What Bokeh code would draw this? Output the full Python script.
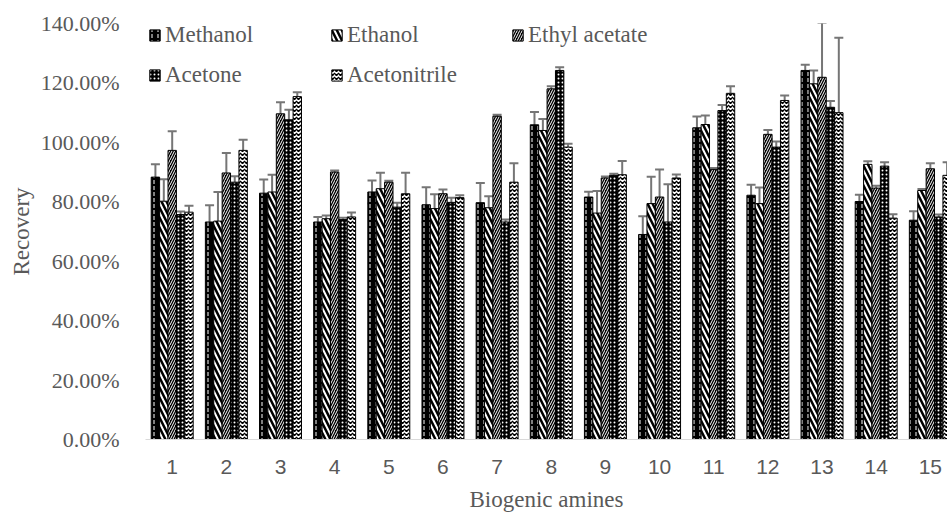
from bokeh.plotting import figure
from bokeh.models import (Range1d, FixedTicker, NumeralTickFormatter, Whisker,
                          ColumnDataSource, Legend, LegendItem, TeeHead)
from bokeh.transform import dodge
from bokeh.embed import file_html
from bokeh.resources import INLINE

# ---------------- data (recovery, %) ----------------
amines = list(range(1, 16))
tick_labels = [str(i) for i in amines]
solvents = ["Methanol", "Ethanol", "Ethyl acetate", "Acetone", "Acetonitrile"]

methanol     = [88.3, 73.2, 82.9, 73.2, 83.3, 79.0, 79.7, 105.9, 81.6, 69.0, 104.9, 82.2, 124.2, 80.1, 73.8]
methanol_err = [4.3, 5.6, 4.6, 1.7, 3.9, 5.9, 6.6, 4.3, 1.8, 6.1, 3.8, 3.5, 1.9, 2.3, 3.0]

ethanol      = [80.2, 73.5, 83.3, 74.3, 84.4, 77.7, 78.0, 104.0, 76.2, 79.4, 106.0, 79.4, 119.7, 92.6, 83.8]
ethanol_err  = [7.4, 9.8, 5.8, 1.1, 5.4, 4.8, 3.9, 3.9, 7.4, 9.0, 3.0, 5.4, 4.5, 1.0, 0.5]

ethyl_acetate     = [97.3, 89.7, 109.6, 90.0, 86.6, 82.7, 108.8, 118.0, 88.0, 81.6, 90.9, 102.7, 121.9, 84.6, 91.1]
ethyl_acetate_err = [6.4, 6.7, 3.9, 0.5, 0.5, 1.4, 0.5, 0.9, 0.5, 9.3, 0.5, 1.5, 18.3, 0.8, 1.9]

acetone     = [75.7, 86.6, 107.6, 74.0, 78.2, 79.8, 73.2, 124.2, 88.9, 73.2, 110.7, 98.4, 111.8, 92.0, 74.9]
acetone_err = [1.0, 2.0, 3.4, 0.6, 1.5, 1.6, 0.8, 1.1, 0.5, 12.7, 1.9, 1.9, 2.1, 1.3, 0.8]

acetonitrile     = [76.5, 97.3, 115.4, 74.9, 82.7, 81.4, 86.6, 98.4, 89.1, 88.0, 116.5, 114.1, 110.0, 74.5, 88.9]
acetonitrile_err = [2.2, 3.6, 1.5, 1.5, 7.1, 0.8, 6.4, 1.1, 4.6, 1.2, 2.4, 1.7, 25.2, 1.3, 4.4]

series = [methanol, ethanol, ethyl_acetate, acetone, acetonitrile]
errors = [methanol_err, ethanol_err, ethyl_acetate_err, acetone_err, acetonitrile_err]

# ---------------- styles ----------------
BAR_W = 0.155
offsets = [-2 * BAR_W, -BAR_W, 0.0, BAR_W, 2 * BAR_W]
styles = [
    dict(fill_color="black", hatch_pattern=":", hatch_color="white", hatch_scale=6, hatch_weight=1),
    dict(fill_color="black", hatch_pattern="\\", hatch_color="white", hatch_scale=10, hatch_weight=2),
    dict(fill_color="black", hatch_pattern="/", hatch_color="white", hatch_scale=5, hatch_weight=1),
    dict(fill_color="black", hatch_pattern=".", hatch_color="white", hatch_scale=4, hatch_weight=1),
    dict(fill_color="white", hatch_pattern="v", hatch_color="black", hatch_scale=4, hatch_weight=1.5),
]
GRAY_TXT = "#595959"
ERR_COL = "#767676"

p = figure(width=947, height=514, output_backend="svg", toolbar_location=None,
           x_range=Range1d(0.507, 15.317), y_range=Range1d(0, 1.40),
           min_border_left=145, min_border_right=0, min_border_top=23, min_border_bottom=75)
p.outline_line_color = None
p.xgrid.visible = False
p.ygrid.visible = False

renderers = []
for name, vals, errs, off, st in zip(solvents, series, errors, offsets, styles):
    src = ColumnDataSource(dict(
        x=amines,
        top=[v / 100 for v in vals],
        upper=[(v + e) / 100 for v, e in zip(vals, errs)],
        lower=[(v - e) / 100 for v, e in zip(vals, errs)],
    ))
    r = p.vbar(x=dodge("x", off, range=p.x_range), top="top", width=BAR_W, source=src,
               line_color="black", line_width=1, **st)
    renderers.append(r)
    w = Whisker(base=dodge("x", off, range=p.x_range), upper="upper", lower="lower", source=src,
                line_color=ERR_COL, line_width=2,
                upper_head=TeeHead(size=9, line_color=ERR_COL, line_width=2),
                lower_head=TeeHead(size=9, line_color=ERR_COL, line_width=2))
    p.add_layout(w)

# ---------------- axes ----------------
p.xaxis.ticker = FixedTicker(ticks=amines)
p.xaxis.major_label_overrides = {i: t for i, t in zip(amines, tick_labels)}
p.xaxis.axis_label = "Biogenic amines"
p.xaxis.axis_line_color = "#d9d9d9"
p.xaxis.major_tick_line_color = None
p.xaxis.minor_tick_line_color = None
p.xaxis.major_label_text_font = "Liberation Sans"
p.xaxis.major_label_text_font_size = "21px"
p.xaxis.major_label_text_color = GRAY_TXT
p.xaxis.major_label_standoff = 14
p.xaxis.axis_label_text_font = "Liberation Serif"
p.xaxis.axis_label_text_font_style = "normal"
p.xaxis.axis_label_text_font_size = "23px"
p.xaxis.axis_label_text_color = GRAY_TXT
p.xaxis.axis_label_standoff = 10

p.yaxis.ticker = FixedTicker(ticks=[0, 0.2, 0.4, 0.6, 0.8, 1.0, 1.2, 1.4])
p.yaxis.formatter = NumeralTickFormatter(format="0.00%")
p.yaxis.axis_line_color = None
p.yaxis.major_tick_line_color = None
p.yaxis.minor_tick_line_color = None
p.yaxis.major_label_text_font = "Liberation Serif"
p.yaxis.major_label_text_font_size = "22px"
p.yaxis.major_label_text_color = GRAY_TXT
p.yaxis.major_label_standoff = 20
p.yaxis.axis_label = "Recovery"
p.yaxis.axis_label_text_font = "Liberation Serif"
p.yaxis.axis_label_text_font_style = "normal"
p.yaxis.axis_label_text_font_size = "23px"
p.yaxis.axis_label_text_color = GRAY_TXT
p.yaxis.axis_label_standoff = 4

# ---------------- legends ----------------
legend_pos = [(3, 391), (185, 391), (366, 391), (3, 351), (185, 351)]
for name, r, loc in zip(solvents, renderers, legend_pos):
    lg = Legend(items=[LegendItem(label=name, renderers=[r])], location=loc,
                orientation="vertical", padding=0, margin=0, spacing=0,
                glyph_width=13, glyph_height=14, label_standoff=4,
                label_text_font="Liberation Serif", label_text_font_size="23px",
                label_text_color=GRAY_TXT, border_line_alpha=0, background_fill_alpha=0)
    p.add_layout(lg)

open("out.html", "w").write(file_html(p, INLINE))
